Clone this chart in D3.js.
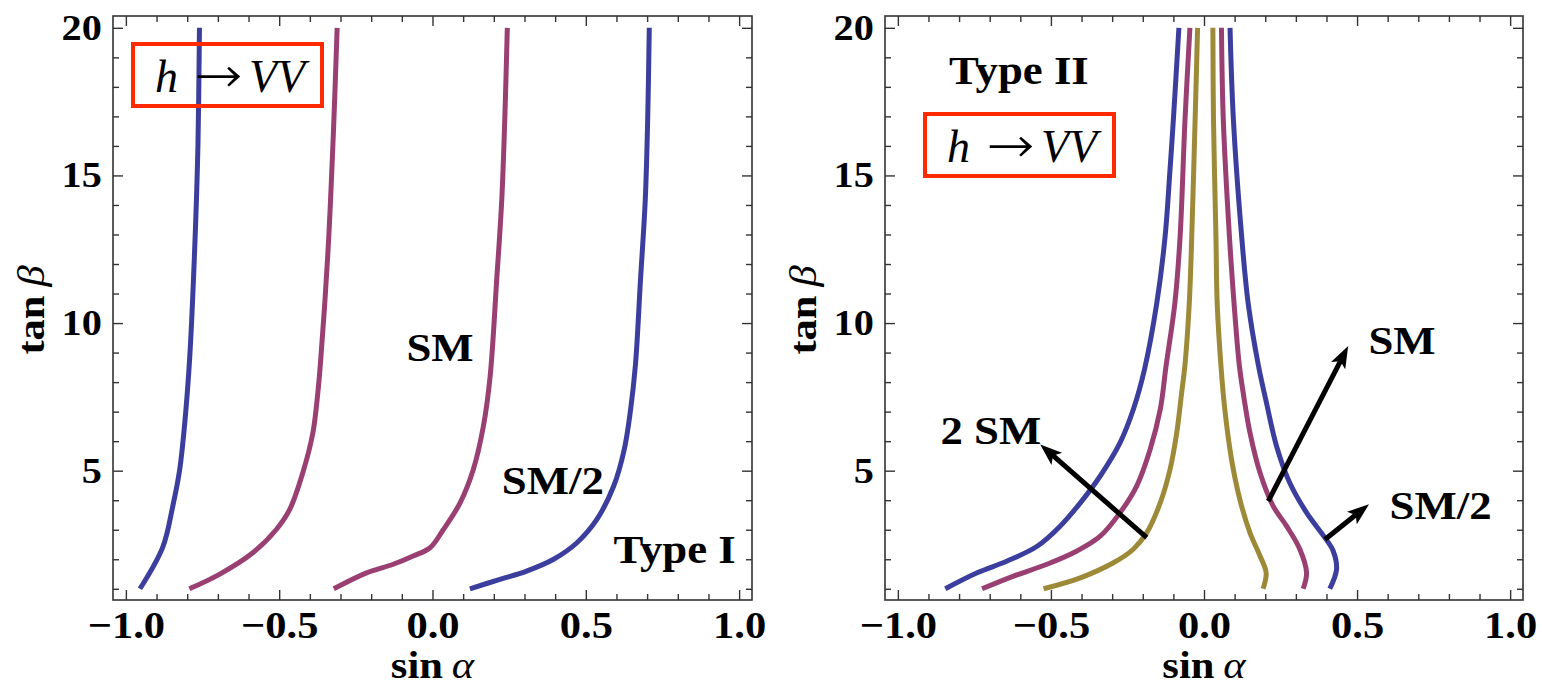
<!DOCTYPE html>
<html>
<head>
<meta charset="utf-8">
<script src="https://cdn.jsdelivr.net/npm/d3@7"></script>
<style>
  body { margin: 0; background: #fff; }
  text { font-family: "Liberation Serif", "Times New Roman", serif; }
</style>
</head>
<body>
<div id="chart"></div>
<script>
// curves are [sin alpha, tan beta] pairs
const typeIBlueLeft = [[-0.954,1],[-0.88,2.4],[-0.847,3.8],[-0.825,5],[-0.809,6.5],[-0.792,8.8],[-0.776,12.4],[-0.765,16],[-0.76,20]];
const typeIMagentaLeft = [[-0.793,1],[-0.695,1.49],[-0.586,2.22],[-0.51,3.0],[-0.466,3.68],[-0.423,4.93],[-0.39,6.29],[-0.374,7.64],[-0.365,8.7],[-0.341,12.4],[-0.323,16.5],[-0.311,20]];
const typeIMagentaRight = [[-0.322,1],[-0.215,1.54],[-0.128,1.83],[-0.063,2.11],[-0.008,2.39],[0.035,3.0],[0.09,3.91],[0.133,5.04],[0.166,6.51],[0.188,8.2],[0.209,11.4],[0.226,14.2],[0.236,17],[0.244,20]];
const typeIBlueRight = [[0.122,1],[0.22,1.32],[0.307,1.6],[0.395,2.0],[0.471,2.56],[0.536,3.35],[0.591,4.48],[0.625,5.7],[0.646,7.07],[0.662,8.6],[0.678,11.4],[0.694,14.2],[0.702,17],[0.707,20]];

const typeIIBlueLeft = [[-0.845,1],[-0.741,1.54],[-0.643,1.94],[-0.545,2.44],[-0.47,3.12],[-0.404,3.91],[-0.339,4.82],[-0.274,5.95],[-0.231,7.07],[-0.195,8.4],[-0.154,10.69],[-0.127,12.94],[-0.111,15.2],[-0.1,16.9],[-0.082,20]];
const typeIIMagentaLeft = [[-0.725,1],[-0.622,1.43],[-0.513,1.83],[-0.415,2.28],[-0.339,2.78],[-0.274,3.58],[-0.22,4.48],[-0.176,5.72],[-0.143,7.07],[-0.124,8.54],[-0.095,10.69],[-0.078,12.94],[-0.062,16.9],[-0.046,20]];
const typeIIOliveLeft = [[-0.524,1],[-0.404,1.37],[-0.296,1.88],[-0.231,2.34],[-0.187,2.9],[-0.143,3.91],[-0.111,5.04],[-0.089,6.29],[-0.073,7.64],[-0.062,8.6],[-0.048,10.69],[-0.04,12.94],[-0.029,16.9],[-0.021,20]];
const typeIIOliveRight = [[0.193,1],[0.203,1.54],[0.183,2.11],[0.15,2.9],[0.117,4.03],[0.09,5.38],[0.068,7.07],[0.055,8.6],[0.043,10.69],[0.039,12.94],[0.031,16.9],[0.029,20]];
const typeIIMagentaRight = [[0.324,1],[0.335,1.54],[0.313,2.34],[0.27,3.12],[0.226,3.8],[0.183,4.93],[0.15,6.29],[0.128,7.64],[0.115,8.6],[0.098,10.69],[0.083,12.94],[0.063,16.9],[0.057,20]];
const typeIIBlueRight = [[0.411,1],[0.433,1.66],[0.422,2.28],[0.395,2.73],[0.335,3.58],[0.28,4.59],[0.237,5.83],[0.204,7.3],[0.177,8.6],[0.144,10.69],[0.123,12.94],[0.096,16.9],[0.085,20]];

const xMajorTicks = [-1, -0.5, 0, 0.5, 1];
const xTickLabels = ["\u22121.0", "\u22120.5", "0.0", "0.5", "1.0"];
const xMinorTicks = [-0.9,-0.8,-0.7,-0.6,-0.4,-0.3,-0.2,-0.1,0.1,0.2,0.3,0.4,0.6,0.7,0.8,0.9];
const yMajorTicks = [5, 10, 15, 20];
const yMinorTicks = [1,2,3,4,6,7,8,9,11,12,13,14,16,17,18,19];

// annotations: [text, sin alpha, tan beta] (left edge, baseline)
const typeILabels = [["SM", -0.085, 8.71], ["SM/2", 0.226, 4.2], ["Type I", 0.59, 1.88]];
const typeIILabels = [["Type II", -0.833, 18.08], ["2 SM", -0.861, 5.89], ["SM", 0.537, 8.94], ["SM/2", 0.606, 3.35]];
// arrows: [from, to]
const typeIIArrows = [
  [[-0.187, 2.73], [-0.535, 5.89]],
  [[0.21, 3.97], [0.471, 9.22]],
  [[0.395, 2.67], [0.539, 3.86]]
];

const blue = "#3b3e9d", magenta = "#9a3f72", olive = "#9d8a38";
const width = 1542, height = 688;
const plotTop = 16, plotBottom = 600;
const stretch = 1.12;

const svg = d3.select("#chart").append("svg")
  .attr("width", width).attr("height", height);

svg.append("defs").append("marker")
  .attr("id", "head")
  .attr("viewBox", "0 0 22 16")
  .attr("refX", 6).attr("refY", 8)
  .attr("markerWidth", 22).attr("markerHeight", 16)
  .attr("markerUnits", "userSpaceOnUse")
  .attr("orient", "auto")
  .append("path")
  .attr("d", "M0,0 L22,8 L0,16 L5,8 Z")
  .attr("fill", "#000");

function label(parent, x, y, str, size) {
  parent.append("g")
    .attr("transform", `translate(${x},${y})`)
    .append("text")
    .attr("transform", `scale(${stretch},1)`)
    .attr("font-size", size)
    .attr("font-weight", "bold")
    .text(str);
}

function styleAxis(ax, size) {
  ax.attr("font-size", null).attr("font-family", null);
  ax.select(".domain").remove();
  ax.selectAll("line").attr("stroke", "#333").attr("stroke-width", 1.4);
  ax.selectAll("text")
    .attr("font-size", size)
    .attr("font-weight", "bold")
    .attr("fill", "#000")
    .attr("transform", `scale(${stretch},1)`);
}

function panel(left, right, curves, labels, arrows, boxPos) {
  const x = d3.scaleLinear().domain([-1.042, 1.042]).range([left, right]);
  const y = d3.scaleLinear().domain([0.62, 20.4]).range([plotBottom, plotTop]);
  const g = svg.append("g");

  // ticks on all four sides, pointing inward
  styleAxis(g.append("g").attr("transform", `translate(0,${plotBottom})`)
    .call(d3.axisBottom(x).tickValues(xMajorTicks).tickFormat((d, i) => xTickLabels[i]).tickSize(-10).tickPadding(11)), 38);
  styleAxis(g.append("g").attr("transform", `translate(0,${plotBottom})`)
    .call(d3.axisBottom(x).tickValues(xMinorTicks).tickFormat("").tickSize(-6)), 38);
  styleAxis(g.append("g").attr("transform", `translate(0,${plotTop})`)
    .call(d3.axisTop(x).tickValues(xMajorTicks).tickFormat("").tickSize(-10)), 38);
  styleAxis(g.append("g").attr("transform", `translate(0,${plotTop})`)
    .call(d3.axisTop(x).tickValues(xMinorTicks).tickFormat("").tickSize(-6)), 38);
  styleAxis(g.append("g").attr("transform", `translate(${left},0)`)
    .call(d3.axisLeft(y).tickValues(yMajorTicks).tickSize(-10).tickPadding(10)), 36);
  styleAxis(g.append("g").attr("transform", `translate(${left},0)`)
    .call(d3.axisLeft(y).tickValues(yMinorTicks).tickFormat("").tickSize(-6)), 36);
  styleAxis(g.append("g").attr("transform", `translate(${right},0)`)
    .call(d3.axisRight(y).tickValues(yMajorTicks).tickFormat("").tickSize(-10)), 36);
  styleAxis(g.append("g").attr("transform", `translate(${right},0)`)
    .call(d3.axisRight(y).tickValues(yMinorTicks).tickFormat("").tickSize(-6)), 36);

  g.append("rect")
    .attr("x", left).attr("y", plotTop)
    .attr("width", right - left).attr("height", plotBottom - plotTop)
    .attr("fill", "none").attr("stroke", "#333").attr("stroke-width", 1.6);

  const line = d3.line()
    .x(d => x(d[0]))
    .y(d => y(d[1]))
    .curve(d3.curveCatmullRom);

  g.selectAll(".curve")
    .data(curves)
    .join("path")
    .attr("class", "curve")
    .attr("fill", "none")
    .attr("stroke", d => d.color)
    .attr("stroke-width", 5)
    .attr("d", d => line(d.values));

  // axis titles
  const yt = g.append("text")
    .attr("transform", `translate(${left - 69},310) rotate(-90) scale(${stretch},1)`)
    .attr("text-anchor", "middle")
    .attr("font-size", 38);
  yt.append("tspan").attr("font-weight", "bold").text("tan");
  yt.append("tspan").attr("font-style", "italic").attr("dx", 8).text("\u03b2");

  const xt = g.append("text")
    .attr("transform", `translate(${x(0)},678) scale(${stretch},1)`)
    .attr("text-anchor", "middle")
    .attr("font-size", 38);
  xt.append("tspan").attr("font-weight", "bold").text("sin");
  xt.append("tspan").attr("font-style", "italic").attr("dx", 8).text("\u03b1");

  labels.forEach(l => label(g, x(l[1]), y(l[2]), l[0], 40));

  arrows.forEach(a => {
    const x0 = x(a[0][0]), y0 = y(a[0][1]);
    const x1 = x(a[1][0]), y1 = y(a[1][1]);
    const len = Math.hypot(x1 - x0, y1 - y0);
    const ux = (x1 - x0) / len, uy = (y1 - y0) / len;
    g.append("line")
      .attr("x1", x0).attr("y1", y0)
      .attr("x2", x1 - ux * 16).attr("y2", y1 - uy * 16)
      .attr("stroke", "#000").attr("stroke-width", 5)
      .attr("marker-end", "url(#head)");
  });

  // red box with h -> VV
  const bx = left + boxPos[0], by = boxPos[1];
  g.append("rect")
    .attr("x", bx).attr("y", by).attr("width", 189).attr("height", 62)
    .attr("fill", "none").attr("stroke", "#ff2a00").attr("stroke-width", 4);
  g.append("text").attr("x", bx + 22).attr("y", by + 48)
    .attr("font-size", 46).attr("font-style", "italic").text("h");
  g.append("text").attr("x", bx + 63).attr("y", by + 45)
    .attr("font-size", 48).style("font-family", "FreeSerif, 'DejaVu Serif', serif")
    .attr("textLength", 46).attr("lengthAdjust", "spacingAndGlyphs").text("\u2192");
  g.append("text").attr("x", bx + 116).attr("y", by + 48)
    .attr("font-size", 46).attr("font-style", "italic").text("VV");
}

panel(113, 752, [
  { color: blue, values: typeIBlueLeft },
  { color: magenta, values: typeIMagentaLeft },
  { color: magenta, values: typeIMagentaRight },
  { color: blue, values: typeIBlueRight }
], typeILabels, [], [20, 44]);

panel(885, 1523, [
  { color: blue, values: typeIIBlueLeft },
  { color: magenta, values: typeIIMagentaLeft },
  { color: olive, values: typeIIOliveLeft },
  { color: olive, values: typeIIOliveRight },
  { color: magenta, values: typeIIMagentaRight },
  { color: blue, values: typeIIBlueRight }
], typeIILabels, typeIIArrows, [40, 114]);
</script>
</body>
</html>
